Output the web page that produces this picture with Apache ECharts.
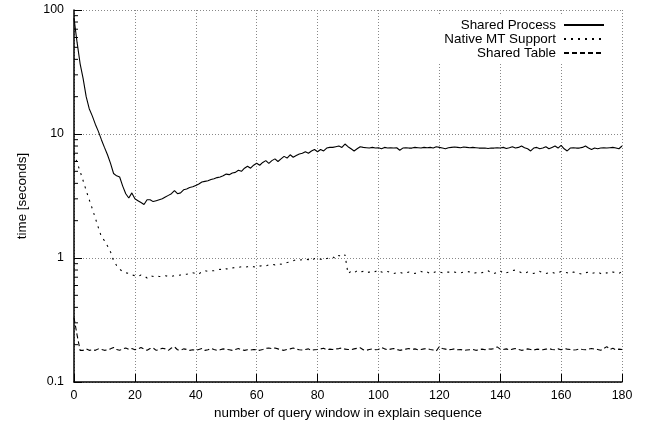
<!DOCTYPE html>
<html><head><meta charset="utf-8">
<script src="https://cdn.jsdelivr.net/npm/echarts@6/dist/echarts.min.js"></script>
<style>html,body{margin:0;padding:0;background:#fff}#c{width:649px;height:428px}</style>
</head><body><div id="c"></div>
<script>
const seriesNames = ['Shared Process', 'Native MT Support', 'Shared Table'];
const xTicks = [0, 20, 40, 60, 80, 100, 120, 140, 160, 180];
const yTicks = [0.1, 1, 10, 100];

const sharedProcess = [
 86,55,37,28,20,16,14,12,10.5,9,
 7.8,6.8,5.8,4.8,4.6,4.5,3.8,3.3,3.05,3.35,
 3.0,2.9,2.8,2.7,2.95,2.95,2.85,2.9,2.95,3.0,
 3.1,3.2,3.3,3.5,3.3,3.35,3.55,3.6,3.7,3.75,
 3.85,3.95,4.1,4.15,4.2,4.3,4.35,4.45,4.5,4.6,
 4.75,4.7,4.85,4.9,5.1,5.0,5.3,5.5,5.3,5.6,
 5.8,5.6,5.9,6.1,5.8,6.1,6.3,6.0,6.3,6.6,
 6.4,6.8,6.5,6.7,6.9,7.0,7.2,7.0,7.3,7.5,
 7.2,7.5,7.3,7.7,7.8,7.8,7.9,8.0,7.8,8.3,
 7.9,7.6,7.3,7.6,7.9,
 7.8,7.75,7.7,7.8,7.7,7.75,7.6,7.8,7.7,7.75,7.7,7.75,7.4,7.7,7.75,7.7,7.7,7.8,7.75,7.7,7.8,7.75,7.8,7.7,7.9,
 7.8,7.7,7.6,7.75,7.8,7.85,7.8,7.75,7.85,7.8,7.75,7.8,7.75,7.7,7.7,7.7,7.65,7.7,7.7,7.75,
 7.7,7.8,7.65,7.75,7.9,7.7,7.8,8.0,7.75,7.6,7.3,7.7,7.8,7.6,7.7,7.9,7.6,7.8,8.0,7.7,
 8.1,7.6,7.3,7.7,7.75,7.7,7.7,7.8,8.0,7.7,7.5,7.7,7.6,7.7,7.75,7.7,7.75,7.8,7.7,7.6,8.0
];
const nativeMT = [
 7.0,5.9,5.0,4.2,3.5,2.95,2.5,2.1,1.76,1.48,
 1.38,1.25,1.12,0.95,0.87,0.81,0.78,0.76,0.75,0.73,
 0.72,0.71,0.73,0.72,0.69,0.72,0.71,0.72,0.71,0.71,
 0.72,0.71,0.71,0.72,0.72,0.73,0.74,0.74,0.75,0.76,
 0.75,0.74,0.78,0.79,0.78,0.79,0.79,0.8,0.81,0.8,
 0.82,0.81,0.83,0.84,0.84,0.85,0.84,0.85,0.86,0.85,
 0.84,0.86,0.87,0.86,0.88,0.89,0.88,0.9,0.89,0.91,
 0.92,0.93,0.95,0.97,0.96,0.97,0.98,0.97,0.95,0.99,
 0.97,0.98,0.96,0.99,1.0,1.02,0.99,1.05,1.02,1.06,
 0.75,0.78,0.76,0.79,0.77,0.78,0.76,0.77,0.76,0.78,0.8,0.77,0.76,0.78,0.76,0.75,0.76,0.77,0.75,0.76,
 0.77,0.76,0.75,0.77,0.78,0.76,0.77,0.75,0.76,0.78,0.77,0.76,0.77,0.77,0.76,0.77,0.76,0.76,0.77,0.78,
 0.77,0.75,0.76,0.77,0.76,0.78,0.79,0.76,0.75,0.77,0.79,0.75,0.76,0.77,0.79,0.8,0.78,0.76,0.75,0.77,
 0.76,0.75,0.77,0.78,0.76,0.75,0.76,0.77,0.75,0.76,0.78,0.77,0.76,0.75,0.77,0.76,0.75,0.74,0.76,0.77,
 0.75,0.76,0.77,0.75,0.74,0.76,0.75,0.77,0.76,0.75,0.78
];
const sharedTable = [
 0.33,0.24,0.18,0.18,0.185,0.18,0.182,0.18,0.185,0.183,0.18,0.182,0.185,0.19,0.183,0.18,0.185,0.188,0.183,0.186,
 0.182,0.185,0.19,0.184,0.18,0.186,0.188,0.18,0.183,0.187,0.185,0.18,0.188,0.192,0.182,0.18,0.185,0.183,0.18,0.182,
 0.18,0.183,0.186,0.18,0.182,0.187,0.183,0.18,0.182,0.185,0.183,0.182,0.18,0.183,0.186,0.182,0.18,0.182,0.181,0.183,
 0.182,0.18,0.183,0.187,0.188,0.186,0.188,0.185,0.182,0.18,0.183,0.185,0.188,0.184,0.182,0.181,0.183,0.185,0.18,0.182,
 0.183,0.185,0.187,0.182,0.184,0.183,0.185,0.186,0.188,0.184,0.183,0.182,0.185,0.187,0.189,0.182,0.18,0.183,0.185,0.182,
 0.183,0.19,0.185,0.182,0.184,0.186,0.183,0.18,0.182,0.184,0.186,0.183,0.185,0.182,0.183,0.185,0.186,0.183,0.181,0.178,
 0.193,0.186,0.184,0.182,0.183,0.185,0.182,0.183,0.18,0.181,0.182,0.183,0.18,0.182,0.184,0.182,0.185,0.184,0.186,0.192,
 0.184,0.183,0.185,0.181,0.184,0.186,0.183,0.18,0.182,0.185,0.183,0.181,0.184,0.183,0.182,0.184,0.186,0.183,0.182,0.185,
 0.182,0.186,0.184,0.183,0.181,0.182,0.185,0.183,0.182,0.184,0.186,0.184,0.183,0.18,0.186,0.193,0.183,0.187,0.182,0.184,0.183
];

const FONT = 'Liberation Sans';
const TXT = 13.4;
const TICK = 12.4;
const pairs = arr => arr.map((v, i) => [i, v]);
const chart = echarts.init(document.getElementById('c'), null, {renderer: 'canvas'});
const gridStyle = {show: true, lineStyle: {color: '#888', type: [1, 2], width: 1}};
chart.setOption({
  animation: false,
  backgroundColor: '#fff',
  grid: {left: 74, right: 27, top: 10, bottom: 46, containLabel: false},
  legend: {
    orient: 'vertical', right: 38, top: 16, align: 'right',
    padding: [2, 6, 3, 6], backgroundColor: '#fff',
    itemWidth: 40, itemHeight: 14, itemGap: 0,
    itemStyle: {opacity: 0},
    textStyle: {fontFamily: FONT, fontSize: TXT, color: '#000', lineHeight: 14, padding: [0, 3, 0, 0]},
    data: seriesNames
  },
  xAxis: {
    type: 'value', min: xTicks[0], max: xTicks[xTicks.length - 1], interval: 20,
    name: 'number of query window in explain sequence', nameLocation: 'middle', nameGap: 24,
    nameTextStyle: {fontFamily: FONT, fontSize: TXT, color: '#000'},
    axisLine: {show: true, lineStyle: {color: '#000', width: 1.5}},
    axisTick: {show: true, inside: true, length: 8, lineStyle: {color: '#000', width: 1}},
    axisLabel: {fontFamily: FONT, fontSize: TICK, color: '#000', margin: 8},
    splitLine: gridStyle
  },
  yAxis: {
    type: 'log', logBase: 10, min: yTicks[0], max: yTicks[yTicks.length - 1],
    name: 'time [seconds]', nameLocation: 'middle', nameGap: 45,
    nameTextStyle: {fontFamily: FONT, fontSize: TXT, color: '#000'},
    axisLine: {show: true, lineStyle: {color: '#000', width: 1.5}},
    axisTick: {show: true, inside: true, length: 8, lineStyle: {color: '#000', width: 1}},
    axisLabel: {fontFamily: FONT, fontSize: TICK, color: '#000', margin: 10,
      formatter: v => String(v)},
    splitLine: gridStyle
  },
  series: [
    {name: seriesNames[0], type: 'line', data: pairs(sharedProcess), symbol: 'none', showSymbol: false,
     lineStyle: {color: '#000', width: 1.1, type: 'solid'}, itemStyle: {color: '#000'}},
    {name: seriesNames[1], type: 'line', data: pairs(nativeMT), symbol: 'none', showSymbol: false,
     lineStyle: {color: '#000', width: 1.1, type: [2, 5]}, itemStyle: {color: '#000'}},
    {name: seriesNames[2], type: 'line', data: pairs(sharedTable), symbol: 'none', showSymbol: false,
     lineStyle: {color: '#000', width: 1.1, type: [5, 3]}, itemStyle: {color: '#000'}}
  ]
});

// minor log ticks on the y axis (2..9 in each decade)
const minor = [];
for (let d = 0; d < yTicks.length - 1; d++) {
  for (let k = 2; k <= 9; k++) {
    const v = yTicks[d] * k;
    const p = chart.convertToPixel({gridIndex: 0}, [0, v]);
    minor.push({type: 'line', shape: {x1: p[0], y1: p[1], x2: p[0] + 4, y2: p[1]},
      style: {stroke: '#000', lineWidth: 1}, silent: true});
  }
}
chart.setOption({graphic: minor});
</script></body></html>
